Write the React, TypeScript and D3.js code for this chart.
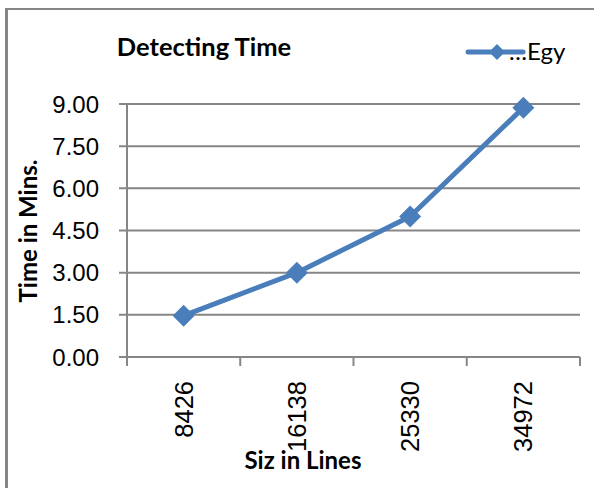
import React from 'react'
import * as d3 from 'd3'

const sizes = ['8426', '16138', '25330', '34972']
const times = [1.47, 3.0, 5.0, 8.87]
const yTicks = [0, 1.5, 3, 4.5, 6, 7.5, 9]

const W = 594
const H = 488
const blue = '#4A7EBB'
const grid = '#868686'
const bold = 'Lato, "Open Sans", sans-serif'
const plain = 'Liberation Sans, Arial, sans-serif'

const App = () => {
  const x = d3.scaleBand().domain(sizes).range([127, 580])
  const y = d3.scaleLinear().domain([0, 9]).range([357, 104])
  const line = d3
    .line<number>()
    .x((d, i) => x(sizes[i])! + x.bandwidth() / 2)
    .y((d) => y(d))

  const diamond = (cx: number, cy: number, r: number) =>
    `M${cx},${cy - r}L${cx + r},${cy}L${cx},${cy + r}L${cx - r},${cy}Z`

  const ticksX = [...sizes.map((s) => x(s)!), 580]

  return (
    <svg
      width={W}
      height={H}
      style={{ position: 'absolute', left: 0, top: 0, background: 'white' }}
    >
      {/* chart frame */}
      <line x1={6.5} x2={6.5} y1={8} y2={H} stroke={grid} strokeWidth={3} />
      <line x1={5} x2={W} y1={9} y2={9} stroke={grid} strokeWidth={2} />

      <text x={204} y={56} textAnchor="middle" fontFamily={bold} fontWeight="bold" fontSize={25.5}>
        Detecting Time
      </text>

      {/* legend */}
      <line x1={468} x2={523} y1={52} y2={52} stroke={blue} strokeWidth={5} strokeLinecap="round" />
      <path d={diamond(497, 52, 8)} fill={blue} />
      <text x={509} y={60} fontFamily={bold} fontSize={24}>
        …Egy
      </text>

      {/* gridlines + y ticks */}
      {yTicks.map((t) => (
        <g key={t}>
          <line x1={119} x2={580} y1={y(t)} y2={y(t)} stroke={grid} strokeWidth={2} />
          <text
            x={99}
            y={y(t)}
            dy="0.36em"
            textAnchor="end"
            fontFamily={plain}
            fontSize={24}
          >
            {t.toFixed(2)}
          </text>
        </g>
      ))}
      <line x1={127} x2={127} y1={104} y2={366} stroke={grid} strokeWidth={2} />

      {/* x ticks */}
      {ticksX.map((tx, i) => (
        <line key={i} x1={tx} x2={tx} y1={357} y2={366} stroke={grid} strokeWidth={2} />
      ))}
      {sizes.map((s) => (
        <text
          key={s}
          transform={`translate(${x(s)! + x.bandwidth() / 2 + 9},381) rotate(-90)`}
          textAnchor="end"
          fontFamily={plain}
          fontSize={25.5}
        >
          {s}
        </text>
      ))}

      <text
        transform="translate(37,231) rotate(-90)"
        textAnchor="middle"
        fontFamily={bold}
        fontWeight="bold"
        fontSize={24}
      >
        Time in Mins.
      </text>
      <text x={303} y={469} textAnchor="middle" fontFamily={bold} fontWeight="bold" fontSize={24}>
        Siz in Lines
      </text>

      <path d={line(times)!} fill="none" stroke={blue} strokeWidth={5} strokeLinejoin="round" />
      {times.map((v, i) => (
        <path key={i} d={diamond(x(sizes[i])! + x.bandwidth() / 2, y(v), 11)} fill={blue} />
      ))}
    </svg>
  )
}

export default App
